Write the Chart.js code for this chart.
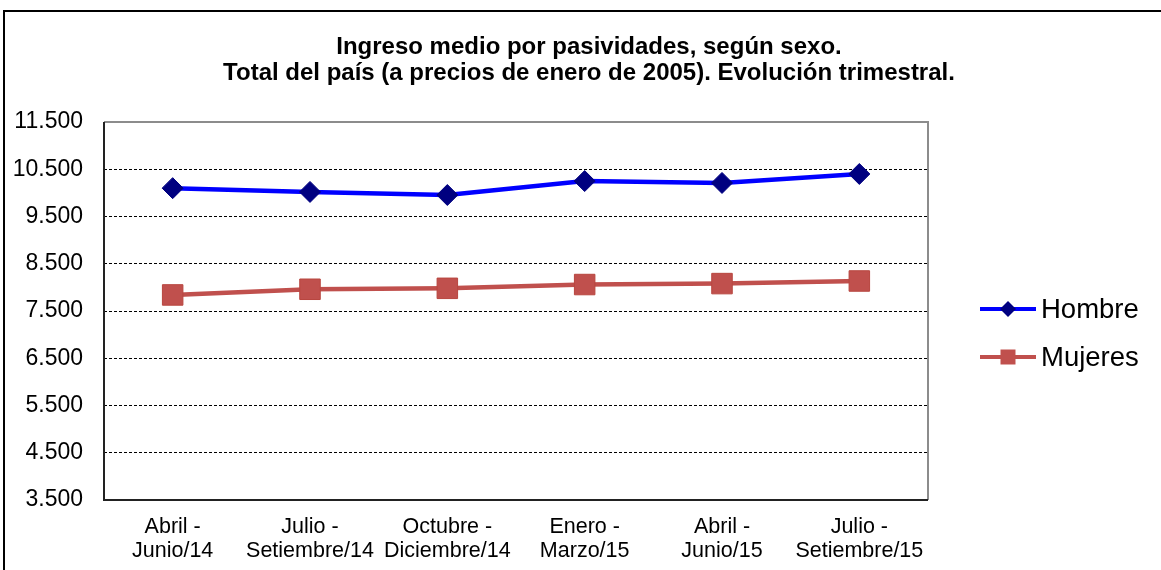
<!DOCTYPE html>
<html>
<head>
<meta charset="utf-8">
<script src="https://cdn.jsdelivr.net/npm/chart.js@4"></script>
<style>
  html, body { margin: 0; padding: 0; background: #fff; }
  #wrap { width: 1161px; height: 570px; position: relative; }
</style>
</head>
<body>
<div id="wrap"><canvas id="chart" width="1161" height="570"></canvas></div>
<script>
// Ingreso medio por pasividades, según sexo (trimestral)

const categories = [
  ["Abril -", "Junio/14"],
  ["Julio -", "Setiembre/14"],
  ["Octubre -", "Diciembre/14"],
  ["Enero -", "Marzo/15"],
  ["Abril -", "Junio/15"],
  ["Julio -", "Setiembre/15"],
];
const hombre = [10100, 10020, 9955, 10250, 10210, 10400];
const mujeres = [7840, 7960, 7980, 8060, 8080, 8135];
const titleLines = [
  "Ingreso medio por pasividades, según sexo.",
  "Total del país (a precios de enero de 2005). Evolución trimestral.",
];
const yMin = 3500, yMax = 11500, yStep = 1000;

const FONT = "'Liberation Sans', Arial, sans-serif";

function fmt(v) {
  return String(v).replace(/\B(?=(\d{3})+(?!\d))/g, ".");
}

// frame, plot border, title and legend
const decor = {
  id: "decor",
  beforeDraw(chart) {
    const ctx = chart.ctx;
    ctx.save();
    ctx.strokeStyle = "#000";
    ctx.lineWidth = 2;
    ctx.beginPath();
    ctx.moveTo(4, 570);
    ctx.lineTo(4, 11);
    ctx.lineTo(1161, 11);
    ctx.stroke();
    ctx.restore();
  },
  afterDatasetsDraw(chart) {
    const ctx = chart.ctx;
    const a = chart.chartArea;
    ctx.save();
    ctx.lineWidth = 2;
    ctx.strokeStyle = "#8c8c8c";
    ctx.beginPath();
    ctx.moveTo(a.left, a.top);
    ctx.lineTo(a.right, a.top);
    ctx.lineTo(a.right, a.bottom);
    ctx.stroke();
    ctx.strokeStyle = "#222";
    ctx.beginPath();
    ctx.moveTo(a.left, a.top);
    ctx.lineTo(a.left, a.bottom);
    ctx.lineTo(a.right, a.bottom);
    ctx.stroke();
    ctx.restore();
  },
  afterDraw(chart) {
    const ctx = chart.ctx;
    ctx.save();
    ctx.fillStyle = "#000";
    ctx.textAlign = "center";
    ctx.textBaseline = "middle";
    ctx.font = "bold 24px " + FONT;
    titleLines.forEach((t, i) => ctx.fillText(t, 589, 47 + i * 26));

    // legend: line + marker + label
    chart.data.datasets.forEach((ds, i) => {
      const y = 309 + i * 48;
      ctx.strokeStyle = ds.borderColor;
      ctx.lineWidth = 4;
      ctx.beginPath();
      ctx.moveTo(980, y);
      ctx.lineTo(1036, y);
      ctx.stroke();
      ctx.fillStyle = ds.pointBackgroundColor;
      ctx.beginPath();
      if (ds.pointStyle === "rectRot") {
        ctx.moveTo(1008, y - 8);
        ctx.lineTo(1016, y);
        ctx.lineTo(1008, y + 8);
        ctx.lineTo(1000, y);
        ctx.closePath();
      } else {
        ctx.rect(1000.5, y - 7.5, 15, 15);
      }
      ctx.fill();
      ctx.fillStyle = "#000";
      ctx.textAlign = "left";
      ctx.font = "27.5px " + FONT;
      ctx.fillText(ds.label, 1041, y + 1);
    });
    ctx.restore();
  },
};

new Chart(document.getElementById("chart"), {
  type: "line",
  data: {
    labels: categories,
    datasets: [
      {
        label: "Hombre",
        data: hombre,
        borderColor: "#0000ff",
        borderWidth: 4.5,
        pointStyle: "rectRot",
        pointRadius: 10.5,
        pointBackgroundColor: "#000080",
        pointBorderColor: "#000080",
        pointBorderWidth: 1,
        tension: 0,
      },
      {
        label: "Mujeres",
        data: mujeres,
        borderColor: "#c0504d",
        borderWidth: 4.5,
        pointStyle: "rect",
        pointRadius: 14.5,
        pointBackgroundColor: "#c0504d",
        pointBorderColor: "#b8463f",
        pointBorderWidth: 1,
        tension: 0,
      },
    ],
  },
  options: {
    responsive: false,
    animation: false,
    layout: { padding: { left: 0, right: 233, top: 122, bottom: 0 } },
    plugins: {
      legend: { display: false },
      title: { display: false },
      tooltip: { enabled: false },
    },
    scales: {
      x: {
        offset: true,
        afterFit(scale) { scale.height = 70; },
        grid: { display: false, drawTicks: false },
        border: { display: false },
        ticks: {
          color: "#000",
          padding: 15,
          maxRotation: 0,
          autoSkip: false,
          font: { family: FONT, size: 21.5, lineHeight: 1.12 },
        },
      },
      y: {
        min: yMin,
        max: yMax,
        afterFit(scale) { scale.width = 104; },
        afterBuildTicks(scale) {
          const t = [];
          for (let v = yMin; v <= yMax; v += yStep) t.push({ value: v });
          scale.ticks = t;
        },
        grid: {
          color: "#000",
          lineWidth: 1,
          drawTicks: false,
        },
        border: { display: false, dash: [3, 2] },
        ticks: {
          color: "#000",
          padding: 21,
          font: { family: FONT, size: 23 },
          callback: (v) => fmt(v),
        },
      },
    },
  },
  plugins: [decor],
});
</script>
</body>
</html>
